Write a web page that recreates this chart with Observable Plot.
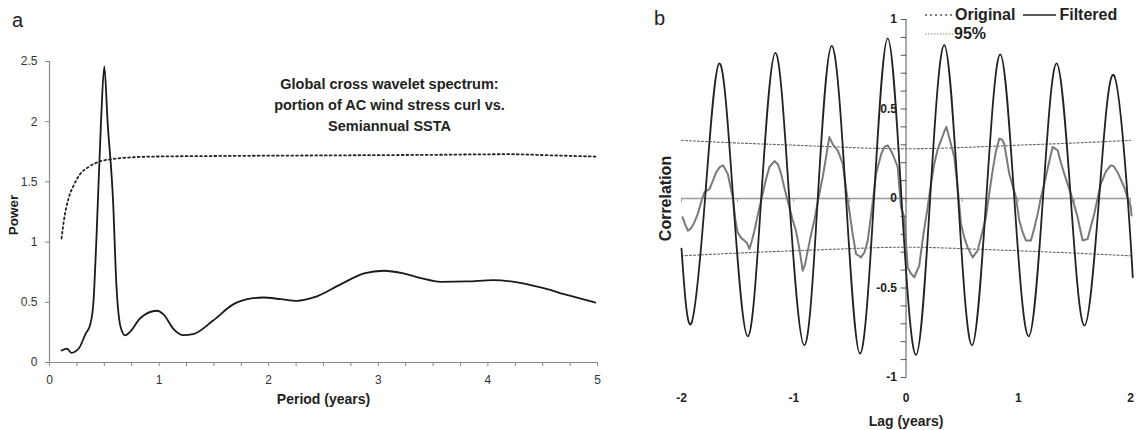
<!DOCTYPE html>
<html>
<head>
<meta charset="utf-8">
<script src="https://cdn.jsdelivr.net/npm/d3@7"></script>
<script src="https://cdn.jsdelivr.net/npm/@observablehq/plot@0.6"></script>
<style>
  body { margin: 0; background: #fff; font-family: "Liberation Sans", Arial, sans-serif; }
  #wrap { position: relative; width: 1136px; height: 430px; overflow: hidden; }
  #pa, #pb { position: absolute; top: 0; }
  #pa { left: 0; }
  #pb { left: 620px; }
  .plab { position: absolute; font-size: 20px; color: #222; }
  #legend { position: absolute; left: 925px; top: 5px; font-weight: bold; font-size: 16px; color: #222; }
  #legend .row { height: 19px; display: flex; align-items: center; white-space: nowrap; }
  #legend svg { display: block; }
</style>
</head>
<body>
<div id="wrap">
  <div id="pa"></div>
  <div id="pb"></div>
  <div class="plab" style="left:12px; top:9px;">a</div>
  <div class="plab" style="left:654px; top:7px;">b</div>
  <div id="legend">
    <div class="row">
      <svg width="28" height="10"><line x1="0" y1="5" x2="28" y2="5" stroke="#555" stroke-width="1.5" stroke-dasharray="2,3"/></svg>
      <span style="margin-left:2px">Original</span>
      <svg width="34" height="10" style="margin-left:8px"><line x1="0" y1="5" x2="33" y2="5" stroke="#222" stroke-width="1.5"/></svg>
      <span style="margin-left:2px">Filtered</span>
    </div>
    <div class="row">
      <svg width="28" height="10"><line x1="0" y1="5" x2="28" y2="5" stroke="#888" stroke-width="1.2" stroke-dasharray="1.5,1.5"/></svg>
      <span style="margin-left:1px">95%</span>
    </div>
  </div>
</div>
<script>
// ---------- Panel a data ----------
const periodA = [0.11,0.16,0.20,0.27,0.33,0.37,0.40,0.43,0.47,0.50,0.53,0.58,0.61,0.65,0.69,0.73,0.83,0.98,1.04,1.13,1.22,1.31,1.49,1.68,1.83,1.95,2.11,2.26,2.41,2.66,2.87,3.05,3.23,3.39,3.57,3.81,4.05,4.24,4.48,4.72,4.98];
const powerA  = [0.10,0.115,0.08,0.12,0.24,0.31,0.49,1.07,2.0,2.46,2.0,1.34,0.65,0.29,0.225,0.25,0.37,0.43,0.40,0.28,0.227,0.235,0.346,0.485,0.53,0.54,0.526,0.512,0.54,0.651,0.74,0.762,0.74,0.70,0.67,0.673,0.684,0.67,0.623,0.562,0.498];
const sigPeriod = [0.11,0.13,0.176,0.22,0.28,0.35,0.43,0.58,0.92,1.5,2.5,3.5,4.2,4.6,5.0];
const sigPower  = [1.03,1.17,1.37,1.47,1.565,1.62,1.66,1.69,1.71,1.715,1.72,1.725,1.73,1.72,1.71];
const yTicksA = [0,0.5,1,1.5,2,2.5];
const xTicksA = [0,1,2,3,4,5];
const xMinorA = [0,0.25,0.5,0.75,1,1.25,1.5,1.75,2,2.25,2.5,2.75,3,3.25,3.5,3.75,4,4.25,4.5,4.75,5];
const titleA = "Global cross wavelet spectrum:\nportion of AC wind stress curl vs.\nSemiannual SSTA";

// ---------- Panel b data ----------
const lagFilt  = [-2.0,-1.914,-1.79,-1.663,-1.54,-1.41,-1.29,-1.164,-1.04,-0.906,-0.786,-0.662,-0.534,-0.41,-0.285,-0.163,-0.04,0.089,0.215,0.341,0.465,0.588,0.715,0.84,0.965,1.093,1.22,1.342,1.468,1.59,1.72,1.85,1.975,2.02];
const corrFilt = [-0.28,-0.70,0,0.755,0,-0.77,0,0.814,0,-0.82,0,0.853,0,-0.867,0,0.895,0,-0.874,0,0.857,0,-0.82,0,0.805,0,-0.77,0,0.755,0,-0.71,0,0.69,0,-0.44];
const lagOrig  = [-1.99,-1.97,-1.944,-1.92,-1.89,-1.855,-1.82,-1.796,-1.75,-1.72,-1.69,-1.66,-1.63,-1.588,-1.565,-1.543,-1.52,-1.5,-1.47,-1.44,-1.415,-1.395,-1.375,-1.35,-1.32,-1.29,-1.25,-1.217,-1.172,-1.14,-1.113,-1.08,-1.039,-1.01,-0.98,-0.95,-0.92,-0.9,-0.875,-0.845,-0.817,-0.78,-0.742,-0.71,-0.683,-0.65,-0.608,-0.564,-0.535,-0.505,-0.475,-0.445,-0.4,-0.37,-0.341,-0.3,-0.267,-0.22,-0.19,-0.163,-0.12,-0.074,-0.045,-0.015,0.015,0.045,0.074,0.118,0.155,0.193,0.222,0.252,0.28,0.312,0.345,0.36,0.39,0.43,0.46,0.49,0.52,0.549,0.594,0.638,0.675,0.712,0.74,0.772,0.80,0.831,0.855,0.875,0.92,0.95,0.98,1.009,1.04,1.069,1.113,1.145,1.173,1.2,1.232,1.27,1.306,1.351,1.38,1.41,1.44,1.469,1.5,1.529,1.573,1.618,1.645,1.677,1.7,1.736,1.78,1.825,1.85,1.885,1.944,1.975,2.0,2.01];
const corrOrig = [-0.105,-0.14,-0.18,-0.17,-0.14,-0.086,-0.01,0.035,0.054,0.10,0.147,0.175,0.185,0.138,0.07,0.007,-0.12,-0.189,-0.22,-0.235,-0.25,-0.282,-0.24,-0.18,-0.09,-0.01,0.10,0.176,0.209,0.19,0.138,0.05,-0.049,-0.12,-0.18,-0.28,-0.403,-0.37,-0.29,-0.2,-0.123,0.0,0.12,0.24,0.343,0.3,0.269,0.194,0.06,-0.067,-0.2,-0.31,-0.329,-0.3,-0.235,-0.04,0.138,0.25,0.29,0.297,0.25,0.176,-0.049,-0.105,-0.385,-0.42,-0.44,-0.375,-0.2,-0.049,0.08,0.194,0.27,0.325,0.38,0.40,0.33,0.232,0.063,-0.142,-0.22,-0.273,-0.329,-0.291,-0.2,-0.105,0.02,0.157,0.26,0.334,0.33,0.306,0.138,0.07,0.007,-0.123,-0.19,-0.235,-0.235,-0.16,-0.086,0.0,0.082,0.19,0.288,0.269,0.2,0.138,0.08,0.026,-0.04,-0.105,-0.235,-0.226,-0.16,-0.086,-0.02,0.082,0.15,0.185,0.18,0.147,0.063,0.0,-0.039,-0.095];
const lag95   = [-2,-1.5,-1,-0.5,0,0.5,1,1.5,2];
const upper95 = [0.325,0.31,0.298,0.285,0.278,0.285,0.298,0.31,0.325];
const lower95 = [-0.32,-0.305,-0.292,-0.28,-0.272,-0.28,-0.292,-0.305,-0.32];
const yTicksB = [-1,-0.5,0,0.5,1];
const yMinorB = [-1,-0.9,-0.8,-0.7,-0.6,-0.5,-0.4,-0.3,-0.2,-0.1,0,0.1,0.2,0.3,0.4,0.5,0.6,0.7,0.8,0.9,1];
const xTicksB = [-2,-1,0,1,2];
const zeroTicksB = [-2,-1.5,-1,-0.5,0,0.5,1,1.5,2];

const font = "'Liberation Sans', Arial, sans-serif";
const zip = (xs, ys) => xs.map((x, i) => ({x, y: ys[i]}));
const lineShape = {draw(context, l) { context.moveTo(0, 0); context.lineTo(0, -l); }};

// ---------- Panel a ----------
const plotA = Plot.plot({
  width: 620, height: 430,
  marginLeft: 49, marginRight: 23, marginTop: 61, marginBottom: 68,
  style: {fontFamily: font, fontSize: "12px", background: "transparent", color: "#333"},
  x: {domain: [0, 5], axis: null},
  y: {domain: [0, 2.5], axis: null},
  marks: [
    Plot.ruleX([0], {stroke: "#888", strokeWidth: 1.2}),
    Plot.ruleY([0], {stroke: "#888", strokeWidth: 1.2}),
    Plot.axisY({ticks: yTicksA, tickSize: 4, tickPadding: 8, stroke: "#888", fill: "#333", fontSize: 12, tickFormat: d => String(d), label: null}),
    Plot.axisX({ticks: xMinorA, tickSize: 4, stroke: "#888", tickFormat: () => "", label: null}),
    Plot.axisX({ticks: xTicksA, tickSize: 0, tickPadding: 13, fill: "#333", fontSize: 12, tickFormat: d => String(d), label: null}),
    Plot.line(zip(sigPeriod, sigPower), {x: "x", y: "y", stroke: "#222", strokeWidth: 1.8, strokeDasharray: "1.8,3", curve: "monotone-x"}),
    Plot.line(zip(periodA, powerA), {x: "x", y: "y", stroke: "#1a1a1a", strokeWidth: 1.8, curve: "monotone-x"}),
    Plot.text([titleA], {frameAnchor: "top-left", dx: 340, dy: 42, textAnchor: "middle", lineAnchor: "middle", lineHeight: 1.43, fontWeight: "bold", fontSize: 14.5, fill: "#222"}),
    Plot.text(["Period (years)"], {frameAnchor: "bottom", dy: 41, textAnchor: "middle", fontWeight: "bold", fontSize: 14, fill: "#222"}),
    Plot.text(["Power"], {frameAnchor: "left", dx: -36, dy: 3, textAnchor: "middle", rotate: -90, fontWeight: "bold", fontSize: 13.5, fill: "#222"})
  ]
});
document.getElementById("pa").append(plotA);

// ---------- Panel b ----------
const plotB = Plot.plot({
  width: 516, height: 430,
  marginLeft: 61, marginRight: 6, marginTop: 19, marginBottom: 53,
  style: {fontFamily: font, fontSize: "12px", background: "transparent", color: "#222", overflow: "visible"},
  x: {domain: [-2, 2], axis: null},
  y: {domain: [-1, 1], axis: null},
  marks: [
    Plot.ruleY([0], {stroke: "#999", strokeWidth: 1.6}),
    Plot.vector(zeroTicksB, {x: d => d, y: 0, length: 3, rotate: 180, anchor: "start", shape: lineShape, stroke: "#999", strokeWidth: 1}),
    Plot.ruleX([0], {y1: -1, y2: 1, stroke: "#555", strokeWidth: 1}),
    Plot.vector(yMinorB, {x: 0, y: d => d, length: 5, rotate: -90, anchor: "start", shape: lineShape, stroke: "#555", strokeWidth: 1}),
    Plot.text(yTicksB, {x: 0, y: d => d, text: d => String(d), textAnchor: "end", dx: -9, fontWeight: "bold", fontSize: 12, fill: "#222"}),
    Plot.axisX({ticks: xTicksB, tickSize: 0, tickPadding: 16, fontWeight: "bold", fontSize: 12, fill: "#222", tickFormat: d => String(d), label: null}),
    Plot.line(zip(lag95, upper95), {x: "x", y: "y", stroke: "#666", strokeWidth: 1.1, strokeDasharray: "2,2", curve: "natural"}),
    Plot.line(zip(lag95, lower95), {x: "x", y: "y", stroke: "#666", strokeWidth: 1.1, strokeDasharray: "2,2", curve: "natural"}),
    Plot.line(zip(lagOrig, corrOrig), {x: "x", y: "y", stroke: "#7a7a7a", strokeWidth: 2}),
    Plot.line(zip(lagFilt, corrFilt), {x: "x", y: "y", stroke: "#222", strokeWidth: 1.8, curve: "natural"}),
    Plot.text(["Lag (years)"], {frameAnchor: "bottom", dy: 48, textAnchor: "middle", fontWeight: "bold", fontSize: 14, fill: "#222"}),
    Plot.text(["Correlation"], {frameAnchor: "left", dx: -16, textAnchor: "middle", rotate: -90, fontWeight: "bold", fontSize: 16, fill: "#222"})
  ]
});
document.getElementById("pb").append(plotB);
</script>
</body>
</html>
